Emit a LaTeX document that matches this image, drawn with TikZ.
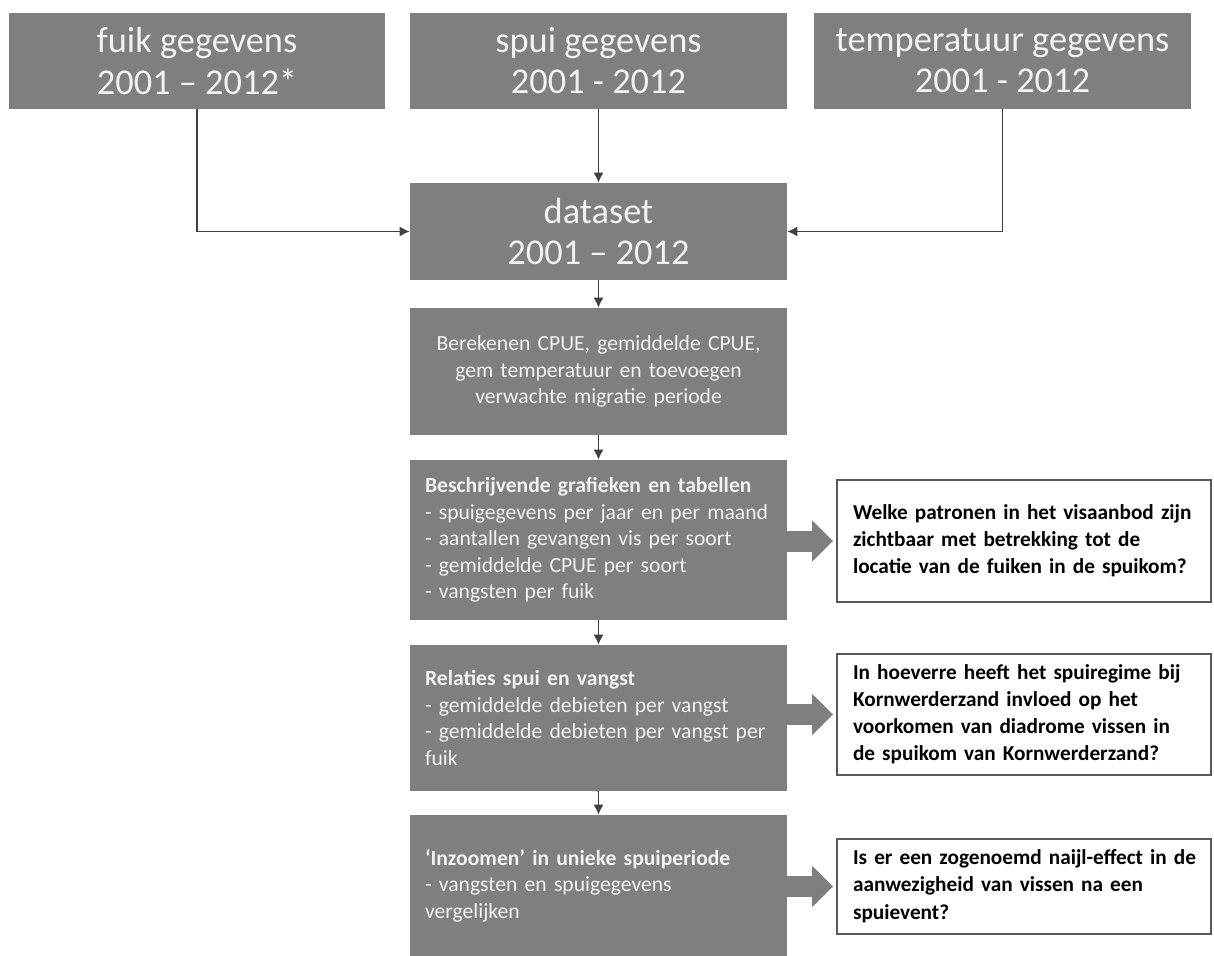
\documentclass[tikz,border=0pt]{standalone}
\usepackage{fontspec}
\setmainfont{Carlito}
\usetikzlibrary{arrows.meta}

\definecolor{boxgrijs}{RGB}{127,127,127}
\definecolor{boxtekst}{RGB}{242,242,242}
\definecolor{lijngrijs}{RGB}{64,64,64}
\definecolor{randgrijs}{RGB}{89,89,89}

% vraagtekst: regels zonder afbreken
\newcommand{\vraagregels}[1]{\begin{tabular}{@{}l@{}}#1\end{tabular}}

\tikzset{
	bronbox/.style={fill=boxgrijs, text=boxtekst, minimum width=7.54cm, minimum height=1.92cm, inner sep=0pt, align=center, font=\fontsize{20.7}{23.4}\selectfont},
	stapbox/.style={fill=boxgrijs, text=boxtekst, text width=6.94cm, inner xsep=0.3cm, inner ysep=0pt, align=left, font=\fontsize{12.3}{15.1}\selectfont},
	vraagbox/.style={draw=randgrijs, line width=1.1pt, fill=white, text=black, text width=6.84cm, inner xsep=0.32cm, inner ysep=0pt, minimum width=7.48cm, align=left, font=\bfseries\fontsize{12.1}{15.5}\selectfont},
	pijl/.style={draw=lijngrijs, line width=0.8pt, -{Latex[length=0.2cm,width=0.2cm]}},
	blokpijl/.style={draw=boxgrijs, line width=0.42cm, -{Triangle[length=0.42cm,width=0.8cm]}, shorten >=0.06cm}
}

\begin{document}
\begin{tikzpicture}[x=0.02cm,y=-0.02cm]
\useasboundingbox (0,0) rectangle (1214,956);

% bronnen
\node[bronbox] (fuik) at (197,61) {fuik gegevens\\2001 – 2012*};
\node[bronbox] (spui) at (598.5,61) {spui gegevens\\2001 - 2012};
\node[bronbox] (temp) at (1002.5,61) {temperatuur gegevens\\2001 - 2012};

% dataset
\node[bronbox, minimum height=1.94cm] (dataset) at (598.5,231.5) {dataset\\2001 – 2012};

\draw[pijl] (fuik.south) |- (dataset.west);
\draw[pijl] (spui.south) -- (dataset.north);
\draw[pijl] (temp.south) |- (dataset.east);

% stappen
\node[stapbox, align=center, minimum height=2.54cm] (bereken) at (598.5,371.5) {Berekenen CPUE, gemiddelde CPUE,\\gem temperatuur en toevoegen\\verwachte migratie periode};
\node[stapbox, minimum height=3.2cm] (beschrijf) at (598.5,540) {\textbf{Beschrijvende grafieken en tabellen}\\- spuigegevens per jaar en per maand\\- aantallen gevangen vis per soort\\- gemiddelde CPUE per soort\\- vangsten per fuik};
\node[stapbox, minimum height=2.92cm] (relatie) at (598.5,718) {\textbf{Relaties spui en vangst}\\- gemiddelde debieten per vangst\\- gemiddelde debieten per vangst per\\fuik};
\node[stapbox, minimum height=2.82cm] (inzoom) at (598.5,885.5) {\textbf{‘Inzoomen’ in unieke spuiperiode}\\- vangsten en spuigegevens\\vergelijken};

\draw[pijl] (dataset) -- (bereken);
\draw[pijl] (bereken) -- (beschrijf);
\draw[pijl] (beschrijf) -- (relatie);
\draw[pijl] (relatie) -- (inzoom);

% vragen
\node[vraagbox, minimum height=2.44cm] (vraag1) at (1024,541) {\vraagregels{Welke patronen in het visaanbod zijn\\zichtbaar met betrekking tot de\\locatie van de fuiken in de spuikom?}};
\node[vraagbox, minimum height=2.42cm] (vraag2) at (1024,714.5) {\vraagregels{In hoeverre heeft het spuiregime bij\\Kornwerderzand invloed op het\\voorkomen van diadrome vissen in\\de spuikom van Kornwerderzand?}};
\node[vraagbox, minimum height=1.9cm] (vraag3) at (1024,886.5) {\vraagregels{Is er een zogenoemd naijl-effect in de\\aanwezigheid van vissen na een\\spuievent?}};

\draw[blokpijl] (beschrijf.east |- vraag1.west) -- (vraag1.west);
\draw[blokpijl] (relatie.east |- vraag2.west) -- (vraag2.west);
\draw[blokpijl] (inzoom.east |- vraag3.west) -- (vraag3.west);

\end{tikzpicture}
\end{document}
